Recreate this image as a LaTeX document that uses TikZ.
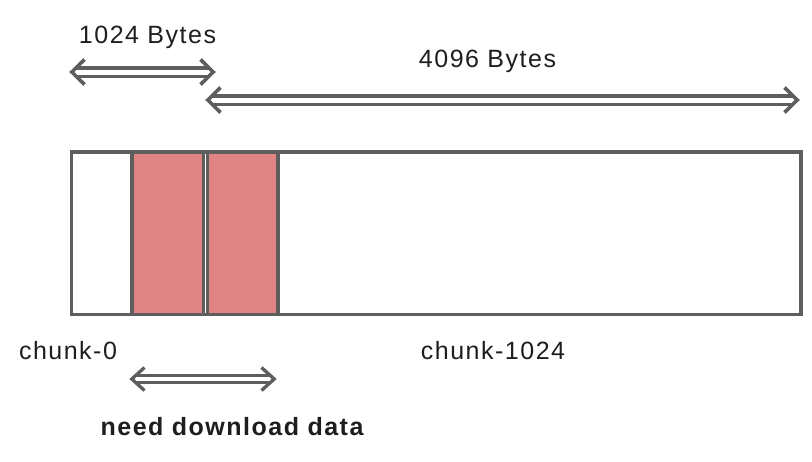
\documentclass[tikz,border=0pt]{standalone}
\usepackage{fontspec}
\setmainfont{Liberation Sans}
\newfontfamily\labfont[LetterSpace=6]{Liberation Sans}
\usetikzlibrary{calc}
\definecolor{linegray}{HTML}{5E5E5E}
\definecolor{pinkfill}{HTML}{E08383}
\definecolor{txt}{HTML}{1E1E1E}
\tikzset{
  box/.style={draw=linegray, line width=3.6pt, rectangle, inner sep=0pt, anchor=north west},
  pinkbox/.style={box, fill=pinkfill},
  shaft/.style={draw=linegray, line width=3.6pt, double=white, double distance=5pt},
  chev/.style={draw=linegray, line width=3.6pt, line join=miter},
  lbl/.style={text=txt, inner sep=0pt, anchor=base, font=\labfont\fontsize{25}{30}\selectfont},
  lblbold/.style={lbl, font=\labfont\bfseries\fontsize{25}{30}\selectfont}
}
\begin{document}
\begin{tikzpicture}[x=1pt,y=-1pt]
\useasboundingbox (0,0) rectangle (812,461);
\fill[white] (0,0) rectangle (812,461);
\node[box, minimum width=729.5pt, minimum height=162.5pt] (chunk) at (69.5,150) {};
\node[pinkbox, minimum width=71.5pt, minimum height=162.5pt] (p1) at (130,150) {};
\node[pinkbox, minimum width=70.5pt, minimum height=162.5pt] (p2) at (205.5,150) {};
\coordinate (a1) at (69,72);
\coordinate (a2) at (216,72);
\coordinate (b1) at (205,100);
\coordinate (b2) at (800,100);
\coordinate (c1) at (129,379);
\coordinate (c2) at (277,379);
% 1024 Bytes arrow
\draw[shaft] ($(a1)+(6,0)$) -- ($(a2)+(-6,0)$);
\draw[chev] ($(a1)+(15.5,-12.5)$) -- ($(a1)+(2.8,0)$) -- ($(a1)+(15.5,12.5)$);
\draw[chev] ($(a2)+(-15.5,-12.5)$) -- ($(a2)+(-2.8,0)$) -- ($(a2)+(-15.5,12.5)$);
% 4096 Bytes arrow
\draw[shaft] ($(b1)+(6,0)$) -- ($(b2)+(-6,0)$);
\draw[chev] ($(b1)+(15.5,-12.5)$) -- ($(b1)+(2.8,0)$) -- ($(b1)+(15.5,12.5)$);
\draw[chev] ($(b2)+(-15.5,-12.5)$) -- ($(b2)+(-2.8,0)$) -- ($(b2)+(-15.5,12.5)$);
% need download data arrow
\draw[shaft, line width=3.3pt, double distance=4pt] ($(c1)+(6,0)$) -- ($(c2)+(-6,0)$);
\draw[chev, line width=3.3pt] ($(c1)+(15.5,-11.5)$) -- ($(c1)+(2.8,0)$) -- ($(c1)+(15.5,11.5)$);
\draw[chev, line width=3.3pt] ($(c2)+(-15.5,-11.5)$) -- ($(c2)+(-2.8,0)$) -- ($(c2)+(-15.5,11.5)$);
\node[lbl] (t1) at (147.5,43) {1024 Bytes};
\node[lbl] (t2) at (487.5,67) {4096 Bytes};
\node[lbl] (t3) at (68,359) {chunk-0};
\node[lbl] (t4) at (493,359) {chunk-1024};
\node[lblbold] (t5) at (232,435) {need download data};
\end{tikzpicture}
\end{document}
